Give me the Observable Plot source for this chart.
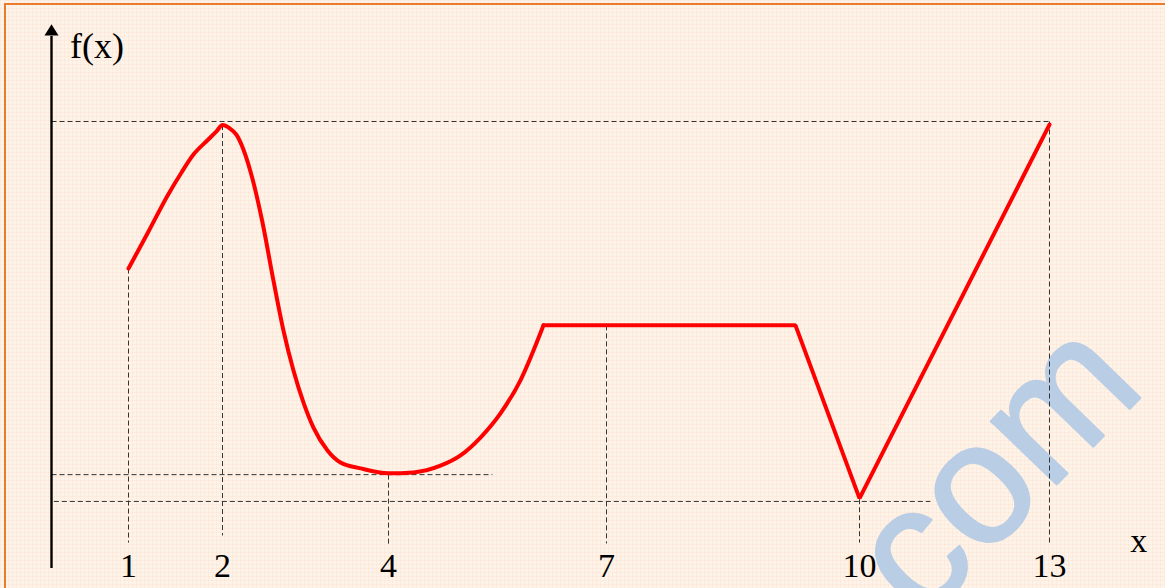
<!DOCTYPE html>
<html>
<head>
<meta charset="utf-8">
<script src="https://cdn.jsdelivr.net/npm/d3@7"></script>
<script src="https://cdn.jsdelivr.net/npm/@observablehq/plot@0.6"></script>
<style>
  html, body { margin: 0; padding: 0; }
  body {
    width: 1165px; height: 588px; overflow: hidden; position: relative;
    background-color: #fef3e9;
    background-image:
      linear-gradient(to right, rgba(250,215,190,0.25) 1px, transparent 1px),
      linear-gradient(to bottom, rgba(250,215,190,0.25) 1px, transparent 1px);
    background-size: 4px 4px;
  }
  #frame {
    position: absolute; left: 4px; top: 3px; width: 1170px; height: 600px;
    border-top: 2px solid #ec7a2c; border-left: 2px solid #ec7a2c;
    pointer-events: none;
  }
  #chart { position: absolute; left: 0; top: 0; }
  #chart svg { background: transparent; overflow: visible; }
</style>
</head>
<body>
<div id="frame"></div>
<div id="chart"></div>
<script>
// Tick positions on the x axis (the picture's axis is not evenly spaced)
const xTicks = [1, 2, 4, 7, 10, 13];
const xTickLabels = ["1", "2", "4", "7", "10", "13"];

// Smooth part of f(x), from x = 1 to the start of the plateau
const smoothX = [1.000, 1.213, 1.415, 1.564, 1.691, 1.840, 1.936, 2.000, 2.084, 2.169, 2.253, 2.361, 2.482, 2.614, 2.735, 2.855, 2.976, 3.096, 3.265, 3.422, 3.663, 4.000, 4.344, 4.716, 4.991, 5.266, 5.541, 5.816, 6.133];
const smoothY = [6.71, 7.54, 8.34, 8.86, 9.26, 9.58, 9.78, 9.92, 9.85, 9.70, 9.37, 8.72, 7.74, 6.44, 5.32, 4.43, 3.71, 3.15, 2.64, 2.37, 2.24, 2.13, 2.15, 2.30, 2.53, 2.93, 3.47, 4.21, 5.44];

// Piecewise-linear part: plateau, drop to the minimum at 10, rise to 13
const linX = [6.133, 9.241, 10, 13];
const linY = [5.44, 5.44, 1.57, 9.93];

// Dashed guide lines
const hGuideY  = [10, 2.10, 1.50];
const hGuideX1 = [0, 0, 0.03];
const hGuideX2 = [13, 5.43, 11.12];
const vGuideX  = [1, 2, 4, 7, 10, 13];
const vGuideY1 = [6.71, 9.92, 2.10, 5.44, 1.55, 10];
const vGuideY2 = [0.58, 0.74, 0.53, 0.56, 0.58, 0.56];

const smooth = smoothX.map((x, i) => ({x, y: smoothY[i]}));
const lin = linX.map((x, i) => ({x, y: linY[i]}));
const hGuides = hGuideY.map((y, i) => ({y, x1: hGuideX1[i], x2: hGuideX2[i]}));
const vGuides = vGuideX.map((x, i) => ({x, y1: vGuideY1[i], y2: vGuideY2[i]}));
const ticks = xTicks.map((x, i) => ({x, label: xTickLabels[i]}));

const arrowHead = {
  draw(context, size) {
    const r = Math.sqrt(size / Math.PI);
    context.moveTo(0, -r * 0.8);
    context.lineTo(r, r * 0.8);
    context.lineTo(-r, r * 0.8);
    context.closePath();
  }
};

const serif = "'Liberation Serif', 'DejaVu Serif', serif";

const chart = Plot.plot({
  width: 1165,
  height: 588,
  margin: 0,
  style: {background: "transparent"},
  x: {type: "linear", domain: [0, 1, 2, 4, 7, 10, 13], range: [51, 128, 222, 388, 606, 859, 1049], axis: null},
  y: {type: "linear", domain: [0, 10], range: [568, 121], axis: null},
  marks: [
    // watermark
    Plot.text(["com"], {x: 10.99, y: -1.23, text: d => d, rotate: -46, fontSize: 172,
      fill: "#b9cde5", stroke: "#b9cde5", strokeWidth: 2.5, fontFamily: "'Liberation Sans', Arial, sans-serif",
      textAnchor: "start", lineAnchor: "bottom"}),
    // dashed guides
    Plot.link(hGuides, {x1: "x1", x2: "x2", y1: "y", y2: "y", stroke: "#333", strokeWidth: 1, strokeDasharray: "5,3"}),
    Plot.link(vGuides, {x1: "x", x2: "x", y1: "y1", y2: "y2", stroke: "#333", strokeWidth: 1, strokeDasharray: "5,3"}),
    // y axis with arrow
    Plot.ruleX([0], {y1: 0, y2: 11.9, stroke: "black", strokeWidth: 2.4}),
    Plot.dot([0], {x: 0, y: 12.05, r: 7, symbol: arrowHead, fill: "black", stroke: null}),
    // function curve
    Plot.line(smooth, {x: "x", y: "y", curve: "monotone-x", stroke: "red", strokeWidth: 4}),
    Plot.line(lin, {x: "x", y: "y", curve: "linear", stroke: "red", strokeWidth: 4, strokeLinejoin: "miter"}),
    // labels
    Plot.text(ticks, {x: "x", y: -0.18, text: "label", lineAnchor: "bottom", textAnchor: "middle",
      fontSize: 34, fontFamily: serif, fill: "black"}),
    Plot.text(["f(x)"], {x: 0.24, y: 11.41, text: d => d, lineAnchor: "bottom", textAnchor: "start",
      fontSize: 36, fontFamily: serif, fill: "black", style: {letterSpacing: "1.5px"}}),
    Plot.text(["x"], {x: 14.41, y: 0.38, text: d => d, lineAnchor: "bottom", textAnchor: "middle",
      fontSize: 34, fontFamily: serif, fill: "black"})
  ]
});
document.getElementById("chart").appendChild(chart);
</script>
</body>
</html>
